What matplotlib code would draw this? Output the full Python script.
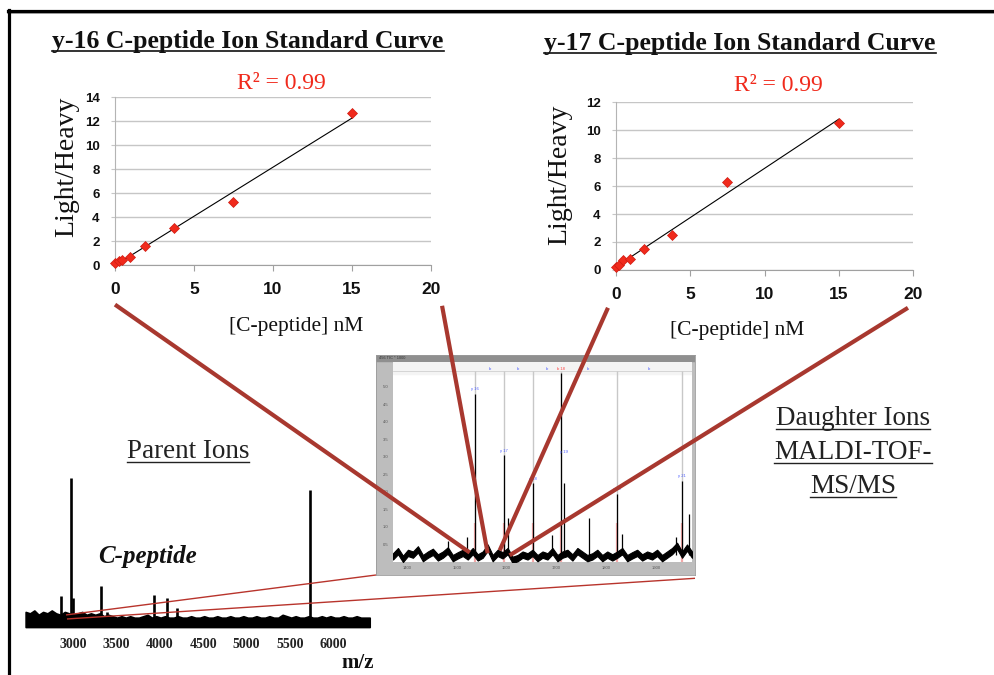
import numpy as np
import matplotlib
matplotlib.use("Agg")
import matplotlib.pyplot as plt
from matplotlib.lines import Line2D

# standard curves: spiked C-peptide (nM) vs light/heavy ratio
conc_nm = [0, 0.23, 0.47, 0.94, 1.875, 3.75, 7.5, 15]
y16_ratio = [0.14, 0.30, 0.45, 0.69, 1.58, 3.08, 5.21, 12.67]
y17_ratio = [0.19, 0.35, 0.72, 0.76, 1.48, 2.48, 6.30, 10.48]
r2_text = "R\u00b2 = 0.99"

# parent ion spectrum (relative intensity)
parent_mz = [2858, 2970, 2993, 3320, 3385, 3931, 4084, 4193, 5730, 5950]
parent_int = [18, 100, 17, 25, 7, 19, 17, 10, 92, 3]
parent_ticks = [3000, 3500, 4000, 4500, 5000, 5500, 6000]
# upper edge of the noise floor, every 50 m/z from 2450
parent_floor = [7, 6, 8, 5, 7, 6, 8, 6, 5, 7, 6, 5, 6, 7, 5, 6, 5, 6, 4, 5,
                4, 3, 4, 3, 4, 3, 3, 4, 5, 3, 4, 3, 4, 3, 3, 4, 3, 3, 4, 3,
                3, 4, 3, 3, 4, 3, 3, 4, 3, 3, 4, 3, 3, 4, 3, 3, 4, 3, 3, 5,
                4, 3, 4, 3, 3, 4, 3, 3, 4, 3, 4, 3, 3, 4, 3, 3, 4, 3, 3, 3]

# daughter ion spectrum (MALDI-TOF-MS/MS)
frag_mz = [1482, 1520, 1536, 1594, 1602, 1652, 1692, 1710, 1716, 1766,
           1822, 1832, 1940, 1952, 1966]
frag_int = [0.6, 0.7, 4.8, 3.04, 1.24, 2.24, 0.76, 5.4, 2.24, 1.24,
            1.95, 0.8, 0.7, 2.32, 1.38]
ion_mz = [1536, 1594, 1652, 1710, 1822, 1952]
ion_tags = ["y 16", "y 17", "y 18", "y 19", "y 20", "y 21"]
ion_tag_mz = [1536, 1594, 1652, 1716, 1822, 1952]
ion_tag_int = [4.8, 3.04, 2.24, 3.0, 1.95, 2.32]
frag_floor = [0.25, 0.4, 0.18, 0.35, 0.3, 0.45, 0.2, 0.3, 0.38, 0.22, 0.3,
              0.42, 0.2, 0.28, 0.35, 0.25, 0.4, 0.22, 0.3, 0.5, 0.2, 0.35,
              0.28, 0.4, 0.15, 0.2, 0.3, 0.25, 0.35, 0.2, 0.3, 0.25, 0.4,
              0.2, 0.3, 0.35, 0.22, 0.4, 0.3, 0.2, 0.25, 0.35, 0.2, 0.3,
              0.22, 0.3, 0.4, 0.2, 0.28, 0.35, 0.22, 0.3, 0.25, 0.35, 0.2,
              0.3, 0.4, 0.55, 0.3, 0.5, 0.3]
frag_ticks = [1400, 1500, 1600, 1700, 1800, 1900]
frag_yticks = [0.5, 1.0, 1.5, 2.0, 2.5, 3.0, 3.5, 4.0, 4.5, 5.0]

W, H = 995, 675
SERIF = "Liberation Serif"
SANS = "Liberation Sans"
RED = "#f02a1c"
BRICK = "#a8382f"

plt.rcParams["font.family"] = SANS
fig = plt.figure(figsize=(W / 100, H / 100), dpi=100)
fig.patch.set_facecolor("white")


def box(x0, y0, x1, y1):
    # pixel box (top-left origin) -> figure fraction rect
    return [x0 / W, 1 - y1 / H, (x1 - x0) / W, (y1 - y0) / H]


def fx(x):
    return x / W


def fy(y):
    return 1 - y / H


renderer = fig.canvas.get_renderer()


def underlined(x, y, s, gap=2.5, lw=1.0, **kw):
    t = fig.text(fx(x), fy(y), s, ha="center", va="baseline", **kw)
    bb = t.get_window_extent(renderer)
    yl = fy(y + gap)
    fig.add_artist(Line2D([bb.x0 / W, bb.x1 / W], [yl, yl],
                          transform=fig.transFigure, color=kw.get("color", "black"),
                          lw=lw))
    return t


def link(transA, xyA, transB, xyB, **kw):
    # straight line between points given in two different axes
    pa = fig.transFigure.inverted().transform(transA.transform(xyA))
    pb = fig.transFigure.inverted().transform(transB.transform(xyB))
    fig.add_artist(Line2D([pa[0], pb[0]], [pa[1], pb[1]],
                          transform=fig.transFigure, solid_capstyle="butt", **kw))


def standard_curve(ax, ratio, ymax):
    k, b = np.polyfit(conc_nm, ratio, 1)
    ax.plot([0, 15], [b, k * 15 + b], color="black", lw=0.8, zorder=2)
    ax.plot(conc_nm, ratio, "D", color=RED, ms=5.5, mec="#d01a10", mew=0.5,
            zorder=3, clip_on=False)
    ax.set_xlim(0, 20)
    ax.set_ylim(0, ymax)
    ax.set_xticks(range(0, 21, 5))
    ax.set_yticks(range(0, ymax + 1, 2))
    ax.grid(axis="y", color="#c6c6c6", lw=1)
    ax.set_axisbelow(True)
    for s in ["top", "right"]:
        ax.spines[s].set_visible(False)
    ax.spines["left"].set_color("#b4b4b4")
    ax.spines["bottom"].set_color("#a0a0a0")
    ax.tick_params(axis="x", length=4, color="#a0a0a0", labelsize=12.5, pad=8)
    ax.tick_params(axis="y", length=3, color="#c6c6c6", labelsize=9.5, pad=8)
    for lbl in ax.get_xticklabels() + ax.get_yticklabels():
        lbl.set_fontweight("bold")
        lbl.set_color("#111111")


# outer frame
fig.add_artist(Line2D([fx(8), 1], [fy(12.5), fy(12.5)], transform=fig.transFigure,
                      color="#999999", lw=1.2))
fig.add_artist(Line2D([fx(8), 1], [fy(11), fy(11)], transform=fig.transFigure,
                      color="black", lw=2.3))
fig.add_artist(Line2D([fx(8.5), fx(8.5)], [fy(10), 0], transform=fig.transFigure,
                      color="black", lw=2.3))

# y-16 standard curve
ax_l = fig.add_axes(box(115, 97, 431, 265))
standard_curve(ax_l, y16_ratio, 14)
underlined(248, 48, "y-16 C-peptide Ion Standard Curve", gap=2.5, lw=1.2,
           family=SERIF, fontweight="bold", fontsize=18.5, color="#111111")
fig.text(fx(281), fy(89), r2_text, ha="center", va="baseline", family=SERIF,
         fontsize=17, color=RED)
fig.text(fx(67), fy(167), "Light/Heavy", rotation=90, ha="center", va="center",
         family=SERIF, fontsize=20, color="#111111")
fig.text(fx(296), fy(327), "[C-peptide] nM", ha="center", va="center",
         family=SERIF, fontsize=15.5, color="#111111")

# y-17 standard curve
ax_r = fig.add_axes(box(616, 102, 913, 270))
standard_curve(ax_r, y17_ratio, 12)
underlined(740, 50, "y-17 C-peptide Ion Standard Curve", gap=2.5, lw=1.2,
           family=SERIF, fontweight="bold", fontsize=18.5, color="#111111")
fig.text(fx(778), fy(91), r2_text, ha="center", va="baseline", family=SERIF,
         fontsize=17, color=RED)
fig.text(fx(560), fy(175), "Light/Heavy", rotation=90, ha="center", va="center",
         family=SERIF, fontsize=20, color="#111111")
fig.text(fx(737), fy(330), "[C-peptide] nM", ha="center", va="center",
         family=SERIF, fontsize=15.5, color="#111111")

# parent ion spectrum
ax_p = fig.add_axes(box(21.3, 470.8, 372.3, 629.2))
ax_p.set_xlim(2400, 6450)
ax_p.set_ylim(-5, 105)
floor_mz = np.linspace(2450, 6420, len(parent_floor))
ax_p.fill_between(floor_mz, -3.5, parent_floor, color="black", lw=1.2,
                  edgecolor="black")
ax_p.vlines(parent_mz, 0, parent_int, color="black", lw=1.9)
ax_p.set_xticks(parent_ticks)
ax_p.set_yticks([])
ax_p.tick_params(axis="x", length=0, pad=6, labelsize=10)
for lbl in ax_p.get_xticklabels():
    lbl.set_fontfamily(SERIF)
    lbl.set_fontweight("bold")
    lbl.set_color("#222222")
for s in ax_p.spines.values():
    s.set_visible(False)
ax_p.patch.set_alpha(0)
fig.text(fx(358), fy(668), "m/z", ha="center", va="baseline", family=SERIF,
         fontweight="bold", fontsize=15, color="#111111")
fig.text(fx(98), fy(563), "C-peptide", ha="left", va="baseline", family=SERIF,
         fontweight="bold", fontstyle="italic", fontsize=18, color="#111111")
underlined(188, 458, "Parent Ions", gap=4, lw=1.0, family=SERIF, fontsize=19.5,
           color="#222222")

# daughter ion spectrum: grey window frame
ax_f = fig.add_axes(box(376, 355, 695, 575))
ax_f.set_facecolor("#bdbdbd")
ax_f.set_xlim(0, 1)
ax_f.set_ylim(0, 1)
ax_f.axhspan(0.975, 1.0, color="#8f8f8f")
ax_f.set_xticks([])
ax_f.set_yticks([])
for s in ax_f.spines.values():
    s.set_color("#9a9a9a")
    s.set_linewidth(0.6)
ax_f.text(0.01, 0.987, "456 TIC * 1000", fontsize=2.8, color="#333333",
          va="center")

ax_ms = fig.add_axes(box(393, 362, 692, 562))
ax_ms.set_xlim(1372, 1972)
ax_ms.set_ylim(0, 5.7)
ax_ms.axhspan(5.35, 5.7, color="#f4f4f4", zorder=0)
ax_ms.axhline(5.45, color="#d0d0d0", lw=0.6, zorder=0)
ax_ms.vlines(ion_mz, 0.2, 5.45, color="#c8c8c8", lw=1.0, zorder=1)
ax_ms.vlines(ion_mz, 0, 1.1, color="#f4a8a8", lw=1.6, zorder=1)
floor_x = np.linspace(1372, 1972, len(frag_floor))
ax_ms.fill_between(floor_x, np.array(frag_floor) - 0.18, frag_floor,
                   color="black", lw=0.8, edgecolor="black", zorder=2)
ax_ms.vlines(frag_mz, 0.2, frag_int, color="black", lw=0.9, zorder=3)
for mz, it, tag in zip(ion_tag_mz, ion_tag_int, ion_tags):
    ax_ms.text(mz, it + 0.08, tag, fontsize=3, color="#4a5cff", ha="center",
               va="bottom", zorder=4)
for mz in [1566, 1622, 1680, 1764, 1886]:
    ax_ms.text(mz, 5.5, "b", fontsize=3, color="#4a5cff", ha="center",
               va="center", zorder=4)
ax_ms.text(1710, 5.5, "b 18", fontsize=3, color="#ff4040", ha="center",
           va="center", zorder=4)
ax_ms.set_xticks(frag_ticks)
ax_ms.set_yticks(frag_yticks)
ax_ms.tick_params(length=0, labelsize=3, colors="#555555", pad=3)
for s in ax_ms.spines.values():
    s.set_visible(False)

# links between the standard curves and the daughter ion spectrum
for axA, xyA, xyB in [(ax_l, (0, -3.3), (1526, 0.27)),
                      (ax_l, (20.7, -3.4), (1562, 0.25)),
                      (ax_r, (-0.54, -2.7), (1586, 0.33)),
                      (ax_r, (19.66, -2.7), (1606, 0.19))]:
    link(axA.transData, xyA, ax_ms.transData, xyB, color=BRICK, lw=3.0,
         zorder=10)

# zoom lines from the C-peptide parent peak to the daughter spectrum window
for xyA, xyB in [((2916, 4.9), (0, 0)), ((2927, 2.1), (1, -0.015))]:
    link(ax_p.transData, xyA, ax_f.transAxes, xyB, color="#b8342c", lw=1.0,
         zorder=9)

# daughter ion caption
for i, line in enumerate(["Daughter Ions", "MALDI-TOF-", "MS/MS"]):
    underlined(853, 425 + i * 34, line, gap=4, lw=1.0, family=SERIF,
               fontsize=19.5, color="#222222")

fig.savefig("out.png", dpi=100)
